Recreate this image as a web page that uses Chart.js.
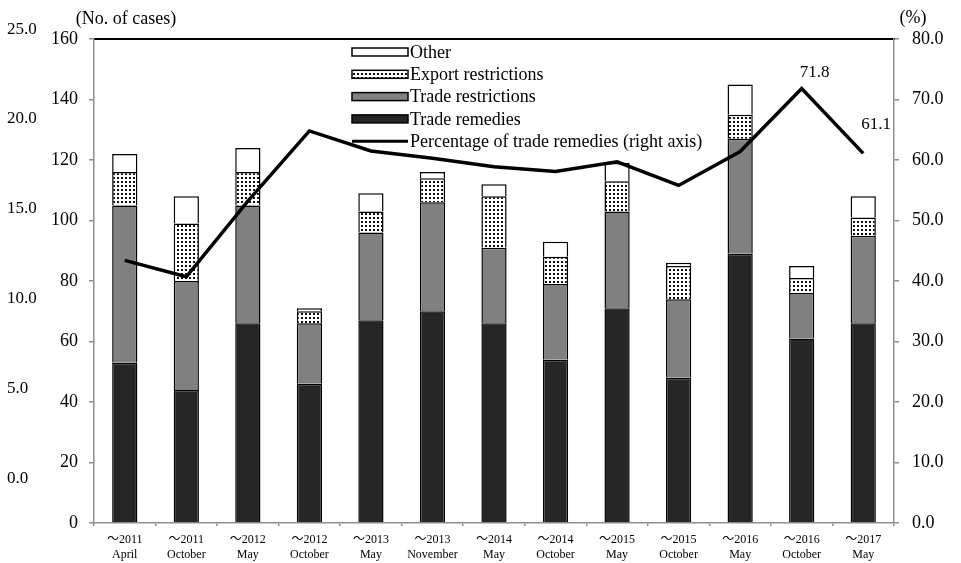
<!DOCTYPE html>
<html>
<head>
<meta charset="utf-8">
<script src="https://cdn.jsdelivr.net/npm/chart.js@4.4.1/dist/chart.umd.min.js"></script>
<style>
  html, body { margin: 0; padding: 0; background: #fff; }
</style>
</head>
<body>
<canvas id="chart" width="961" height="563"></canvas>
<script>
// Survey periods (two-line category labels)
const periods = [
  ['～2011', 'April'], ['～2011', 'October'], ['～2012', 'May'], ['～2012', 'October'],
  ['～2013', 'May'], ['～2013', 'November'], ['～2014', 'May'], ['～2014', 'October'],
  ['～2015', 'May'], ['～2015', 'October'], ['～2016', 'May'], ['～2016', 'October'],
  ['～2017', 'May']
];

// Number of cases by measure type
const tradeRemedies      = [53, 44, 66, 46, 67, 70, 66, 54, 71, 48, 89, 61, 66];
const tradeRestrictions  = [52, 36, 39, 20, 29, 36, 25, 25, 32, 26, 38, 15, 29];
const exportRestrictions = [11, 19, 11,  4,  7,  8, 17,  9, 10, 11,  8,  5,  6];
const otherMeasures      = [ 6,  9,  8,  1,  6,  2,  4,  5,  6,  1, 10,  4,  7];

// Share of trade remedies in all cases (%)
const remediesShare = [43.4, 40.7, 53.2, 64.8, 61.5, 60.3, 58.9, 58.1, 59.7, 55.8, 61.4, 71.8, 61.1];

// Periods whose share is printed next to the line
const labelledPeriods = [11, 12];

// Tick values of the outer left scale
const outerScaleTicks = [0, 5, 10, 15, 20, 25];

const SERIF = '"Liberation Serif", "Times New Roman", serif';
const LABEL_FONT = '"Liberation Serif", "Noto Sans CJK JP", serif';
const AXIS_GREY = '#8f8f8f';

const canvas = document.getElementById('chart');
const ctx = canvas.getContext('2d');

// Dotted fill for export restrictions
function dotPattern() {
  const tile = document.createElement('canvas');
  tile.width = 4; tile.height = 4;
  const t = tile.getContext('2d');
  t.fillStyle = '#ffffff';
  t.fillRect(0, 0, 4, 4);
  t.fillStyle = '#111111';
  t.fillRect(1, 1, 2, 2);
  return ctx.createPattern(tile, 'repeat');
}

// Legend drawn as a vertical list inside the plot
const insideLegend = {
  id: 'insideLegend',
  afterDatasetsDraw(chart, args, opts) {
    const c = chart.ctx;
    const ds = chart.data.datasets;
    c.save();
    c.font = '18px ' + SERIF;
    c.textBaseline = 'middle';
    c.textAlign = 'left';
    opts.order.forEach((idx, row) => {
      const d = ds[idx];
      const y = opts.top + row * opts.rowStep;
      if (d.type === 'line') {
        c.strokeStyle = d.borderColor;
        c.lineWidth = 3;
        c.beginPath();
        c.moveTo(opts.left, y);
        c.lineTo(opts.left + opts.boxWidth, y);
        c.stroke();
      } else {
        c.fillStyle = d.backgroundColor;
        c.fillRect(opts.left, y - 4, opts.boxWidth, 8);
        c.strokeStyle = '#000';
        c.lineWidth = 1.5;
        c.strokeRect(opts.left, y - 4, opts.boxWidth, 8);
      }
      c.fillStyle = '#000';
      c.fillText(d.label, opts.left + opts.boxWidth + 2, y + 1);
    });
    c.restore();
  }
};

// Axis unit captions above the plot
const unitCaptions = {
  id: 'unitCaptions',
  afterDraw(chart) {
    const c = chart.ctx;
    const a = chart.chartArea;
    c.save();
    c.font = '18px ' + SERIF;
    c.fillStyle = '#000';
    c.textBaseline = 'middle';
    c.textAlign = 'center';
    c.fillText('(No. of cases)', a.left + 32, a.top - 20);
    c.fillText('(%)', a.right + 19, a.top - 21);
    c.restore();
  }
};

// Value labels for selected points of the share line
const shareLabels = {
  id: 'shareLabels',
  afterDatasetsDraw(chart, args, opts) {
    const c = chart.ctx;
    const meta = chart.getDatasetMeta(opts.datasetIndex);
    const values = chart.data.datasets[opts.datasetIndex].data;
    c.save();
    c.font = '17px ' + SERIF;
    c.fillStyle = '#000';
    c.textAlign = 'center';
    c.textBaseline = 'middle';
    opts.points.forEach((i) => {
      const p = meta.data[i];
      const off = opts.offsets[i] || [0, -16];
      c.fillText(values[i].toFixed(1), p.x + off[0], p.y + off[1]);
    });
    c.restore();
  }
};

const barCommon = {
  type: 'bar',
  xAxisID: 'x',
  yAxisID: 'y',
  stack: 'cases',
  borderColor: '#000',
  borderWidth: 1.5,
  barPercentage: 0.41,
  categoryPercentage: 1.0,
  order: 1
};

new Chart(ctx, {
  data: {
    labels: periods,
    datasets: [
      Object.assign({}, barCommon, { label: 'Trade remedies', data: tradeRemedies, backgroundColor: '#262626' }),
      Object.assign({}, barCommon, { label: 'Trade restrictions', data: tradeRestrictions, backgroundColor: '#808080' }),
      Object.assign({}, barCommon, { label: 'Export restrictions', data: exportRestrictions, backgroundColor: dotPattern() }),
      Object.assign({}, barCommon, { label: 'Other', data: otherMeasures, backgroundColor: '#ffffff' }),
      {
        type: 'line',
        label: 'Percentage of trade remedies (right axis)',
        data: remediesShare,
        xAxisID: 'x',
        yAxisID: 'y2',
        borderColor: '#000',
        backgroundColor: '#000',
        borderWidth: 3.5,
        pointRadius: 0,
        tension: 0,
        order: 0
      }
    ]
  },
  options: {
    responsive: false,
    animation: false,
    devicePixelRatio: 1,
    layout: { padding: { left: 7, right: 7, top: 39, bottom: 0 } },
    plugins: {
      legend: { display: false },
      tooltip: { enabled: false },
      insideLegend: { order: [3, 2, 1, 0, 4], left: 352, top: 52, rowStep: 22.3, boxWidth: 56 },
      shareLabels: { datasetIndex: 4, points: labelledPeriods, offsets: { 11: [13, -16], 12: [13, -29] } }
    },
    scales: {
      x: {
        type: 'category',
        position: 'bottom',
        stacked: true,
        offset: true,
        grid: { offset: true, drawOnChartArea: false, drawTicks: true, tickLength: 3, color: AXIS_GREY, lineWidth: 1.5 },
        border: { color: AXIS_GREY, width: 1.5 },
        ticks: { font: { family: LABEL_FONT, size: 12 }, color: '#000', padding: 7, maxRotation: 0, autoSkip: false },
        afterFit(scale) { scale.height = 40; }
      },
      xTop: {
        type: 'category',
        position: 'top',
        grid: { drawOnChartArea: false, drawTicks: false },
        border: { color: '#000', width: 2 },
        ticks: { display: false },
        afterFit(scale) { scale.height = 0; }
      },
      y: {
        type: 'linear',
        position: 'left',
        stacked: true,
        weight: 0,
        min: 0,
        max: 160,
        grid: { drawOnChartArea: false, drawTicks: true, tickLength: 5, color: AXIS_GREY, lineWidth: 1.5 },
        border: { color: AXIS_GREY, width: 1.5 },
        ticks: { stepSize: 20, font: { family: SERIF, size: 18 }, color: '#000', padding: 11 },
        afterFit(scale) { scale.width = 42; }
      },
      yOuter: {
        type: 'linear',
        position: 'left',
        weight: 1,
        min: -2.5,
        max: 24.45,
        grid: { display: false, drawTicks: false },
        border: { display: false },
        ticks: {
          font: { family: SERIF, size: 17 }, color: '#000', padding: 0, crossAlign: 'far', autoSkip: false,
          callback: (v) => Number(v).toFixed(1)
        },
        afterBuildTicks(scale) { scale.ticks = outerScaleTicks.map((v) => ({ value: v })); },
        afterFit(scale) { scale.width = 45; }
      },
      y2: {
        type: 'linear',
        position: 'right',
        min: 0,
        max: 80,
        grid: { drawOnChartArea: false, drawTicks: true, tickLength: 5, color: AXIS_GREY, lineWidth: 1.5 },
        border: { color: AXIS_GREY, width: 1.5 },
        ticks: { stepSize: 10, font: { family: SERIF, size: 18 }, color: '#000', padding: 13, callback: (v) => Number(v).toFixed(1) },
        afterFit(scale) { scale.width = 60; }
      }
    }
  },
  plugins: [insideLegend, unitCaptions, shareLabels]
});
</script>
</body>
</html>
